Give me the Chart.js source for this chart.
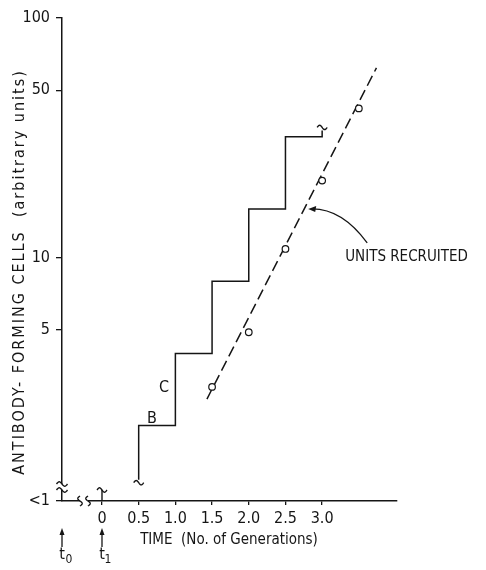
<!DOCTYPE html>
<html>
<head>
<meta charset="utf-8">
<script src="https://cdn.jsdelivr.net/npm/chart.js@4.4.0/dist/chart.umd.min.js"></script>
<style>
html, body { margin: 0; padding: 0; background: #fff; }
</style>
</head>
<body>
<canvas id="myChart" width="486" height="570"></canvas>
<script>
// staircase of antibody-forming cells, one step per half generation
var stepTimes = [0.5, 1.0, 1.5, 2.0, 2.5, 3.0];
var stepLevels = [2, 4, 8, 16, 32];
var stepStart = 1.19;
var stepEnd = 34;

// units recruited (open circles)
var unitTimes = [1.5, 2.0, 2.5, 3.0, 3.5];
var unitValues = [2.9, 4.9, 10.9, 21, 42];

// dashed line through the recruited units
var fitTimes = [1.43, 3.74];
var fitValues = [2.58, 62];

var xTicks = [0, 0.5, 1.0, 1.5, 2.0, 2.5, 3.0];
var xTickLabels = ["0", "0.5", "1.0", "1.5", "2.0", "2.5", "3.0"];
var yTicks = [0.97, 5, 10, 50, 100];
var yTickLabels = ["<1", "5", "10", "50", "100"];

var ink = "#151515";
var fam = "'Liberation Sans Narrow', 'DejaVu Sans Condensed', 'Liberation Sans', sans-serif";

// build the staircase corners from the levels
var stairs = [{x: stepTimes[0], y: stepStart}];
for (var i = 0; i < stepLevels.length; i++) {
  stairs.push({x: stepTimes[i], y: stepLevels[i]});
  stairs.push({x: stepTimes[i + 1], y: stepLevels[i]});
}
stairs.push({x: stepTimes[stepTimes.length - 1], y: stepEnd});

var units = [];
for (var j = 0; j < unitTimes.length; j++) {
  units.push({x: unitTimes[j], y: unitValues[j]});
}
var fit = [];
for (var k = 0; k < fitTimes.length; k++) {
  fit.push({x: fitTimes[k], y: fitValues[k]});
}

// small wavy "break" mark, horizontal or vertical
function squiggle(ctx, cx, cy, len, amp, vertical) {
  ctx.beginPath();
  for (var t = 0; t <= 1.0001; t += 0.05) {
    var a = -len / 2 + len * t;
    var b = -amp * Math.sin(2 * Math.PI * t);
    if (vertical) {
      if (t == 0) ctx.moveTo(cx + b, cy + a); else ctx.lineTo(cx + b, cy + a);
    } else {
      if (t == 0) ctx.moveTo(cx + a, cy + b); else ctx.lineTo(cx + a, cy + b);
    }
  }
  ctx.stroke();
}

function upArrow(ctx, x, y1, y2) {
  ctx.beginPath();
  ctx.moveTo(x, y2);
  ctx.lineTo(x, y1 + 4);
  ctx.stroke();
  ctx.beginPath();
  ctx.moveTo(x, y1);
  ctx.lineTo(x - 2.5, y1 + 7);
  ctx.lineTo(x + 2.5, y1 + 7);
  ctx.closePath();
  ctx.fill();
}

var extras = {
  id: "extras",
  afterDraw: function(chart) {
    var ctx = chart.ctx;
    var xs = chart.scales.x;
    var ys = chart.scales.y;
    var area = chart.chartArea;
    ctx.save();
    ctx.strokeStyle = ink;
    ctx.fillStyle = ink;
    ctx.lineWidth = 1.4;

    // wavy ends of the staircase
    squiggle(ctx, xs.getPixelForValue(stepTimes[0]), ys.getPixelForValue(stepStart) + 3, 10, 2.2, false);
    squiggle(ctx, xs.getPixelForValue(stepTimes[stepTimes.length - 1]), ys.getPixelForValue(stepEnd) - 3, 10, 2.2, false);

    // marker at t1 (time 0)
    var x0 = xs.getPixelForValue(0);
    ctx.beginPath();
    ctx.moveTo(x0, area.bottom);
    ctx.lineTo(x0, area.bottom - 11);
    ctx.stroke();
    squiggle(ctx, x0, area.bottom - 11, 10, 2.2, false);

    // axis breaks
    ctx.fillStyle = "#fff";
    ctx.fillRect(area.left - 6, area.bottom - 17, 12, 6);
    ctx.fillRect(area.left + 18, area.bottom - 4, 8, 8);
    ctx.fillStyle = ink;
    squiggle(ctx, area.left, area.bottom - 17, 11, 2.2, false);
    squiggle(ctx, area.left, area.bottom - 11, 11, 2.2, false);
    squiggle(ctx, area.left + 18, area.bottom, 10, 2.2, true);
    squiggle(ctx, area.left + 26, area.bottom, 10, 2.2, true);

    // t0 and t1 arrows
    ctx.lineWidth = 1.3;
    upArrow(ctx, area.left, area.bottom + 27, area.bottom + 46);
    upArrow(ctx, x0, area.bottom + 27, area.bottom + 46);
    ctx.textAlign = "center";
    ctx.textBaseline = "alphabetic";
    ctx.font = "16px " + fam;
    ctx.fillText("t", area.left, area.bottom + 58);
    ctx.fillText("t", x0, area.bottom + 58);
    ctx.font = "12px " + fam;
    ctx.fillText("0", area.left + 7, area.bottom + 62);
    ctx.fillText("1", x0 + 6, area.bottom + 62);

    // step labels
    ctx.font = "16px " + fam;
    ctx.textBaseline = "middle";
    ctx.fillText("B", xs.getPixelForValue(0.68), ys.getPixelForValue(2.13));
    ctx.fillText("C", xs.getPixelForValue(0.845), ys.getPixelForValue(2.87));

    // annotation arrow onto the dashed line
    var tipX = xs.getPixelForValue(2.81);
    var tipY = ys.getPixelForValue(16);
    ctx.lineWidth = 1.3;
    ctx.beginPath();
    ctx.moveTo(tipX + 59, tipY + 34);
    ctx.quadraticCurveTo(tipX + 34, tipY, tipX + 4, tipY);
    ctx.stroke();
    ctx.beginPath();
    ctx.moveTo(tipX, tipY);
    ctx.lineTo(tipX + 8, tipY - 3);
    ctx.lineTo(tipX + 7, tipY + 3);
    ctx.closePath();
    ctx.fill();
    ctx.font = "15px " + fam;
    ctx.textAlign = "left";
    ctx.textBaseline = "alphabetic";
    ctx.fillText("UNITS RECRUITED", tipX + 37, tipY + 52);

    // axis titles
    ctx.font = "15px " + fam;
    ctx.textAlign = "center";
    ctx.fillText("TIME  (No. of Generations)", 229, area.bottom + 43);
    ctx.font = "16px " + fam;
    ctx.letterSpacing = "2px";
    ctx.translate(24, 272);
    ctx.rotate(-Math.PI / 2);
    ctx.fillText("ANTIBODY- FORMING CELLS  (arbitrary units)", 0, 0);
    ctx.restore();
  }
};

var ctx = document.getElementById("myChart").getContext("2d");
var myChart = new Chart(ctx, {
  type: "scatter",
  data: {
    datasets: [{
      label: "Units recruited",
      data: units,
      showLine: false,
      pointStyle: "circle",
      pointRadius: 3.3,
      pointBorderWidth: 1.2,
      pointBackgroundColor: "#fff",
      pointBorderColor: ink
    }, {
      label: "Antibody-forming cells",
      data: stairs,
      showLine: true,
      borderColor: ink,
      borderWidth: 1.5,
      pointRadius: 0,
      fill: false
    }, {
      label: "Fit",
      data: fit,
      showLine: true,
      borderColor: ink,
      borderWidth: 1.5,
      borderDash: [11, 5],
      pointRadius: 0,
      fill: false
    }]
  },
  options: {
    responsive: false,
    animation: false,
    layout: { padding: { left: 0, top: 18, right: 89, bottom: 0 } },
    plugins: { legend: { display: false }, tooltip: { enabled: false } },
    scales: {
      x: {
        type: "linear",
        min: -0.545,
        max: 4.02,
        afterBuildTicks: function(s) {
          s.ticks = xTicks.map(function(v) { return {value: v}; });
        },
        afterFit: function(s) { s.height = 69; },
        grid: { drawOnChartArea: false, tickLength: 4, color: ink, lineWidth: 1.3 },
        border: { color: ink, width: 1.5 },
        ticks: {
          autoSkip: false,
          maxRotation: 0,
          padding: 4,
          color: ink,
          font: { family: fam, size: 16 },
          callback: function(v, i) { return xTickLabels[i]; }
        }
      },
      y: {
        type: "logarithmic",
        min: 0.97,
        max: 100,
        afterBuildTicks: function(s) {
          s.ticks = yTicks.map(function(v) { return {value: v}; });
        },
        afterFit: function(s) { s.width = 62; },
        grid: { drawOnChartArea: false, tickLength: 6, color: ink, lineWidth: 1.3 },
        border: { color: ink, width: 1.5 },
        ticks: {
          autoSkip: false,
          padding: 6,
          color: ink,
          font: { family: fam, size: 16 },
          callback: function(v, i) { return yTickLabels[i]; }
        }
      }
    }
  },
  plugins: [extras]
});
</script>
</body>
</html>
